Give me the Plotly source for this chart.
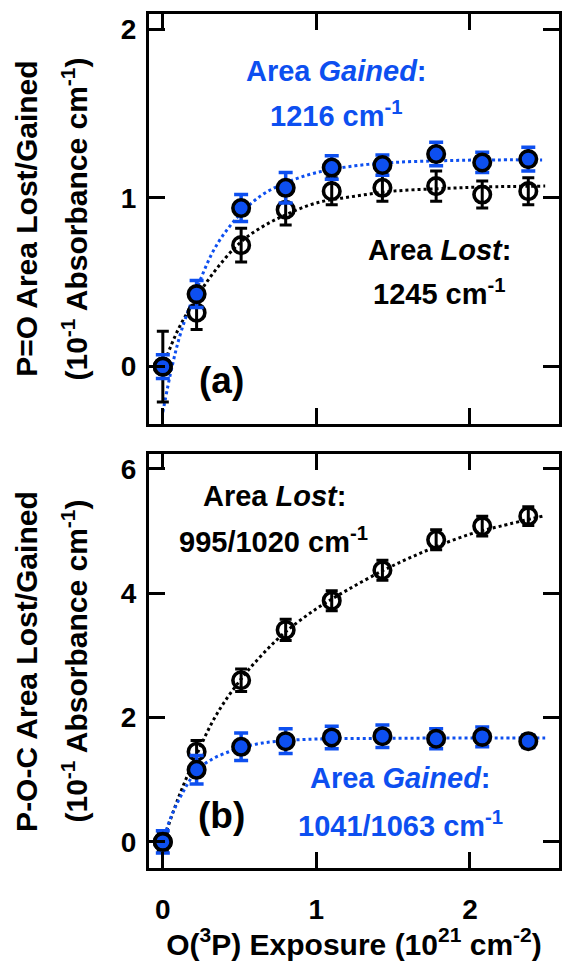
import plotly.graph_objects as go
from plotly.subplots import make_subplots

# O(3P) exposure (10^21 cm^-2)
exposure = [0, 0.22, 0.51, 0.80, 1.10, 1.43, 1.78, 2.08, 2.38]

# (a) P=O band: area lost at 1245 cm-1, area gained at 1216 cm-1
po_lost = [0.0, 0.32, 0.72, 0.93, 1.04, 1.06, 1.07, 1.02, 1.04]
po_lost_err = [0.21, 0.10, 0.10, 0.09, 0.08, 0.08, 0.09, 0.08, 0.08]
po_gain = [0.0, 0.43, 0.94, 1.06, 1.18, 1.195, 1.26, 1.21, 1.23]
po_gain_err = [0.07, 0.08, 0.08, 0.09, 0.07, 0.06, 0.07, 0.06, 0.07]

# (a) fitted curves
po_lost_fit_x = [0, 0.1, 0.22, 0.35, 0.51, 0.65, 0.8, 1.0, 1.25, 1.5, 1.8, 2.1, 2.49]
po_lost_fit_y = [0, 0.22, 0.41, 0.58, 0.74, 0.83, 0.90, 0.97, 1.01, 1.04, 1.055, 1.065, 1.07]
po_gain_fit_x = [0, 0.06, 0.12, 0.22, 0.35, 0.51, 0.65, 0.8, 1.0, 1.25, 1.5, 1.8, 2.1, 2.47]
po_gain_fit_y = [-0.27, 0.0, 0.21, 0.46, 0.72, 0.91, 1.02, 1.09, 1.15, 1.19, 1.21, 1.22, 1.225, 1.225]

# (b) P-O-C band: area lost at 995/1020 cm-1, area gained at 1041/1063 cm-1
poc_lost = [0.0, 1.45, 2.60, 3.41, 3.88, 4.37, 4.86, 5.08, 5.24]
poc_lost_err = [0.15, 0.18, 0.18, 0.17, 0.16, 0.16, 0.16, 0.16, 0.15]
poc_gain = [0.0, 1.16, 1.53, 1.62, 1.68, 1.70, 1.66, 1.69, 1.62]
poc_gain_err = [0.18, 0.23, 0.22, 0.20, 0.18, 0.18, 0.16, 0.16, 0.10]

# (b) fitted curves
poc_lost_fit_x = [0, 0.1, 0.22, 0.35, 0.51, 0.65, 0.8, 1.0, 1.2, 1.43, 1.6, 1.78, 2.0, 2.2, 2.49]
poc_lost_fit_y = [0, 0.70, 1.40, 2.05, 2.62, 3.02, 3.38, 3.75, 4.05, 4.36, 4.56, 4.75, 4.95, 5.08, 5.25]
poc_gain_fit_x = [0, 0.05, 0.12, 0.22, 0.32, 0.43, 0.51, 0.65, 0.8, 1.0, 1.4, 1.8, 2.2, 2.49]
poc_gain_fit_y = [0, 0.38, 0.75, 1.14, 1.33, 1.45, 1.52, 1.59, 1.63, 1.655, 1.665, 1.67, 1.67, 1.67]

BLUE = "#0d4ff0"
BLACK = "#000000"
FONT = "Liberation Sans, Arial, Helvetica, sans-serif"

fig = make_subplots(rows=2, cols=1, vertical_spacing=0.0)


def add_panel(row, lost, lost_err, gain, gain_err, lfx, lfy, gfx, gfy):
    fig.add_trace(go.Scatter(x=lfx, y=lfy, mode="lines", line=dict(color=BLACK, width=3, dash="dot", shape="spline"),
                             hoverinfo="skip"), row=row, col=1)
    fig.add_trace(go.Scatter(x=gfx, y=gfy, mode="lines", line=dict(color=BLUE, width=3, dash="dot", shape="spline"),
                             hoverinfo="skip"), row=row, col=1)
    fig.add_trace(go.Scatter(x=exposure, y=lost, mode="markers",
                             marker=dict(symbol="circle-open", size=16.5, color=BLACK, line=dict(width=3.6, color=BLACK)),
                             error_y=dict(type="data", array=lost_err, color=BLACK, thickness=3, width=6)),
                  row=row, col=1)
    fig.add_trace(go.Scatter(x=exposure, y=gain, mode="markers",
                             marker=dict(symbol="circle", size=16.5, color=BLUE, line=dict(width=3.6, color=BLACK)),
                             error_y=dict(type="data", array=gain_err, color=BLUE, thickness=3.5, width=7)),
                  row=row, col=1)


add_panel(1, po_lost, po_lost_err, po_gain, po_gain_err,
          po_lost_fit_x, po_lost_fit_y, po_gain_fit_x, po_gain_fit_y)
add_panel(2, poc_lost, poc_lost_err, poc_gain, poc_gain_err,
          poc_lost_fit_x, poc_lost_fit_y, poc_gain_fit_x, poc_gain_fit_y)

tickfont = dict(family=FONT, size=28, color=BLACK, weight="bold")
axis_common = dict(showline=True, linewidth=3, linecolor=BLACK, mirror="ticks", ticks="inside",
                   ticklen=16, tickwidth=3, tickcolor=BLACK, showgrid=False, zeroline=False,
                   tickfont=tickfont)

fig.update_xaxes(range=[-0.09, 2.58], tickvals=[0, 1, 2], **axis_common)
fig.update_xaxes(showticklabels=False, row=1, col=1)
fig.update_xaxes(ticklabelstandoff=14, row=2, col=1,
                 title=dict(text="O(<sup>3</sup>P) Exposure (10<sup>21</sup> cm<sup>-2</sup>)",
                            font=dict(family=FONT, size=30, color=BLACK, weight="bold"), standoff=6))
fig.update_yaxes(range=[-0.34, 2.09], tickvals=[0, 1, 2], ticklabelstandoff=4, row=1, col=1, **axis_common)
fig.update_yaxes(range=[-0.42, 6.24], tickvals=[0, 2, 4, 6], ticklabelstandoff=4, row=2, col=1, **axis_common)

fig.update_layout(
    xaxis=dict(domain=[0, 1]),
    yaxis=dict(domain=[0.5199, 1.0]),
    yaxis2=dict(domain=[0.0, 0.4848]),
    width=564, height=961,
    margin=dict(l=149, r=2, t=14, b=93),
    paper_bgcolor="white", plot_bgcolor="white",
    showlegend=False,
)


def label(text, x, y, color, xref, yref, size=29):
    fig.add_annotation(text=text, x=x, y=y, xref=xref, yref=yref, showarrow=False,
                       xanchor="center", yanchor="middle",
                       font=dict(family=FONT, size=size, color=color, weight="bold"))


# panel (a) labels
label("Area <i>Gained</i>:", 1.13, 1.75, BLUE, "x", "y")
label("1216 cm<sup>-1</sup>", 1.13, 1.50, BLUE, "x", "y")
label("Area <i>Lost</i>:", 1.80, 0.69, BLACK, "x", "y")
label("1245 cm<sup>-1</sup>", 1.80, 0.44, BLACK, "x", "y")
label("(a)", 0.38, -0.08, BLACK, "x", "y", size=37)

# panel (b) labels
label("Area <i>Lost</i>:", 0.725, 5.56, BLACK, "x2", "y2")
label("995/1020 cm<sup>-1</sup>", 0.72, 4.86, BLACK, "x2", "y2")
label("Area <i>Gained</i>:", 1.55, 1.03, BLUE, "x2", "y2")
label("1041/1063 cm<sup>-1</sup>", 1.55, 0.29, BLUE, "x2", "y2")
label("(b)", 0.38, 0.42, BLACK, "x2", "y2", size=37)


# two-line rotated y-axis titles
def ytitle(text, xpx, ypaper):
    fig.add_annotation(text=text, x=(xpx - 149) / 413, y=ypaper, xref="paper", yref="paper",
                       showarrow=False, textangle=-90, xanchor="center", yanchor="middle",
                       font=dict(family=FONT, size=30, color=BLACK, weight="bold"))


ytitle("P=O Area Lost/Gained", 26, 0.76)
ytitle("(10<sup>-1</sup> Absorbance cm<sup>-1</sup>)", 74, 0.76)
ytitle("P-O-C Area Lost/Gained", 26, 0.2424)
ytitle("(10<sup>-1</sup> Absorbance cm<sup>-1</sup>)", 74, 0.2424)

fig.write_html("out.html")
